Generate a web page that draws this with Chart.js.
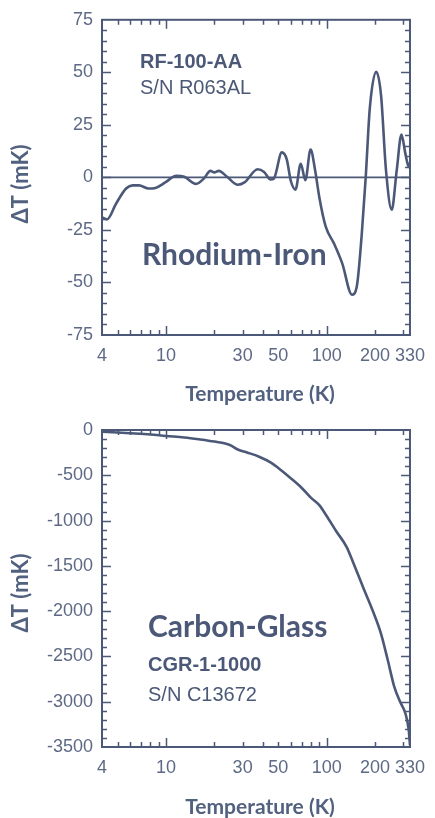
<!DOCTYPE html>
<html>
<head>
<meta charset="utf-8">
<script src="https://cdn.jsdelivr.net/npm/chart.js@4.4.1/dist/chart.umd.min.js"></script>
<style>
  html, body { margin: 0; padding: 0; background: #fff; }
  .panel { position: absolute; left: 0; width: 435px; }
  #top { top: 0; height: 410px; }
  #bottom { top: 410px; height: 408px; }
</style>
</head>
<body>
<div class="panel" id="top"><canvas id="chart-rh" width="435" height="410"></canvas></div>
<div class="panel" id="bottom"><canvas id="chart-cg" width="435" height="408"></canvas></div>
<script>
// temperature axis (shared)
const xTicks = [4, 5, 6, 7, 8, 9, 10, 20, 30, 40, 50, 60, 70, 80, 90, 100, 200, 300, 330];
const xLabels = [4, 10, 30, 50, 100, 200, 330];
const xMajor = [10, 100];

// Rhodium-Iron, RF-100-AA
const rhTemps = [4, 4.3, 4.9, 5.65, 6.2, 6.8, 7.8, 8.6, 9.9, 11.6, 13.0, 15.4, 17.2, 18.9, 20, 21.3,
  24, 28, 30.8, 37.2, 40.8, 44.8, 47, 52.6, 56.5, 59.8, 64, 69, 73.7, 79.4, 84.8, 90, 98.8, 111,
  125, 143.6, 154, 165.5, 175, 185.6, 203.6, 218, 234, 254, 273, 292, 309, 324, 330];
const rhDelta = [-19, -20, -12.4, -5.3, -3.8, -3.8, -5.3, -5, -2.4, 0.8, 0.3, -3.1, -0.6, 3.1, 2.4, 3.1,
  0.3, -3.5, -2.4, 3.9, 2.6, -1, -0.5, 11.9, 8.5, -1.6, -5.8, 6.5, -1.3, 13.2, 3.3, -9.4, -23.6, -31.4,
  -40.9, -55.8, -51.9, -26.7, 0, 33, 50.3, 39, 3.4, -15.4, 3.5, 20.4, 11.3, 5, 7];
const rhYTicks = [-75, -50, -25, 0, 25, 50, 75];

// Carbon-Glass, CGR-1-1000
const cgTemps = [4, 5, 6, 8, 10, 13, 16, 20, 25, 28, 32, 38, 45, 50, 60, 70, 80, 90, 100, 115, 133,
  146, 168, 193, 218, 240, 263, 288, 309, 324, 330];
const cgDelta = [-20, -28, -36, -50, -66, -82, -102, -128, -165, -215, -248, -295, -360, -420, -535,
  -640, -750, -830, -950, -1120, -1290, -1460, -1730, -1990, -2250, -2540, -2830, -3010, -3130, -3310, -3480];
const cgYTicks = [-3500, -3000, -2500, -2000, -1500, -1000, -500, 0];

const ink = '#4b5877';
const labelInk = '#5e6a85';

// inward ticks on all four sides, frame and texts
const framePlugin = {
  id: 'frame',
  beforeDatasetsDraw(chart) {
    const ctx = chart.ctx;
    const a = chart.chartArea;
    const o = chart.options.plugins.frame;
    if (o.zeroLine) {
      const y0 = chart.scales.y.getPixelForValue(0);
      ctx.save();
      ctx.strokeStyle = ink;
      ctx.lineWidth = 1.8;
      ctx.beginPath();
      ctx.moveTo(a.left, y0);
      ctx.lineTo(a.right, y0);
      ctx.stroke();
      ctx.restore();
    }
  },
  afterDraw(chart) {
    const ctx = chart.ctx;
    const a = chart.chartArea;
    const o = chart.options.plugins.frame;
    const xs = chart.scales.x, ys = chart.scales.y;
    ctx.save();
    ctx.strokeStyle = ink;
    ctx.lineWidth = 1.5;
    ctx.beginPath();
    xs.ticks.forEach(t => {
      if (t.value <= 4 || t.value >= 330) return;
      const px = Math.round(xs.getPixelForValue(t.value)) + 0.5;
      const len = xMajor.includes(t.value) ? 9 : 5;
      ctx.moveTo(px, a.bottom); ctx.lineTo(px, a.bottom - len);
      ctx.moveTo(px, a.top); ctx.lineTo(px, a.top + len);
    });
    ys.ticks.forEach(t => {
      if (t.value <= ys.min || t.value >= ys.max) return;
      const py = Math.round(ys.getPixelForValue(t.value)) + 0.5;
      const len = t.value % o.majorStep === 0 ? 9 : 5;
      ctx.moveTo(a.left, py); ctx.lineTo(a.left + len, py);
      ctx.moveTo(a.right, py); ctx.lineTo(a.right - len, py);
    });
    ctx.stroke();
    ctx.lineWidth = 2;
    ctx.strokeRect(a.left, a.top, a.right - a.left, a.bottom - a.top);

    ctx.fillStyle = ink;
    ctx.textBaseline = 'middle';
    o.texts.forEach(t => {
      ctx.font = t.font;
      ctx.textAlign = t.align || 'left';
      ctx.fillText(t.text, t.x, t.y);
    });
    // axis titles
    ctx.font = 'bold 21px Lato';
    ctx.textAlign = 'center';
    ctx.fillStyle = '#52617f';
    ctx.fillText('Temperature (K)', 260, o.xTitleY);
    ctx.font = 'bold 22px Lato';
    ctx.translate(21, o.yTitleY);
    ctx.rotate(-Math.PI / 2);
    ctx.fillText('\u0394T (mK)', 0, 0);
    ctx.restore();
  }
};

function makeChart(id, temps, deltas, yMin, yMax, yStep, yLabels, pad, xHeight, frame) {
  const canvas = document.getElementById(id);
  return new Chart(canvas.getContext('2d'), {
    type: 'line',
    data: {
      datasets: [{
        data: temps.map((t, i) => ({ x: t, y: deltas[i] })),
        borderColor: ink,
        borderWidth: 2.6,
        pointRadius: 0,
        fill: false,
        cubicInterpolationMode: 'monotone'
      }]
    },
    options: {
      responsive: false,
      animation: false,
      devicePixelRatio: 1,
      layout: { padding: pad },
      plugins: {
        legend: { display: false },
        tooltip: { enabled: false },
        frame: frame
      },
      scales: {
        x: {
          type: 'logarithmic',
          min: 4,
          max: 330,
          afterBuildTicks: (scale) => { scale.ticks = xTicks.map(v => ({ value: v })); },
          afterFit: (scale) => { scale.height = xHeight; },
          grid: { display: false, drawTicks: false },
          border: { display: false },
          ticks: {
            autoSkip: false,
            maxRotation: 0,
            padding: 10,
            color: labelInk,
            font: { family: 'Liberation Sans', size: 18 },
            callback: (v) => xLabels.includes(v) ? String(v) : ''
          }
        },
        y: {
          min: yMin,
          max: yMax,
          afterFit: (scale) => { scale.width = 102; },
          grid: { display: false, drawTicks: false },
          border: { display: false },
          ticks: {
            stepSize: yStep,
            autoSkip: false,
            padding: 9,
            color: labelInk,
            font: { family: 'Liberation Sans', size: 18 },
            callback: (v) => yLabels.includes(v) ? String(v) : ''
          }
        }
      }
    },
    plugins: [framePlugin]
  });
}

makeChart('chart-rh', rhTemps, rhDelta, -75, 75, 5, rhYTicks,
  { left: 0, top: 17, right: 17, bottom: 0 }, 75, {
    zeroLine: true,
    majorStep: 25,
    xTitleY: 394,
    yTitleY: 184,
    texts: [
      { text: 'RF-100-AA', x: 140, y: 62, font: 'bold 20px Liberation Sans' },
      { text: 'S/N R063AL', x: 140, y: 88, font: '20px Liberation Sans' },
      { text: 'Rhodium-Iron', x: 142, y: 255, font: 'bold 30px Lato' }
    ]
  });

makeChart('chart-cg', cgTemps, cgDelta, -3500, 0, 100, cgYTicks,
  { left: 0, top: 20, right: 17, bottom: 0 }, 71, {
    zeroLine: false,
    majorStep: 500,
    xTitleY: 397,
    yTitleY: 183,
    texts: [
      { text: 'Carbon-Glass', x: 148, y: 217, font: 'bold 30px Lato' },
      { text: 'CGR-1-1000', x: 148, y: 255, font: 'bold 20px Liberation Sans' },
      { text: 'S/N C13672', x: 148, y: 285, font: '20px Liberation Sans' }
    ]
  });
</script>
</body>
</html>
